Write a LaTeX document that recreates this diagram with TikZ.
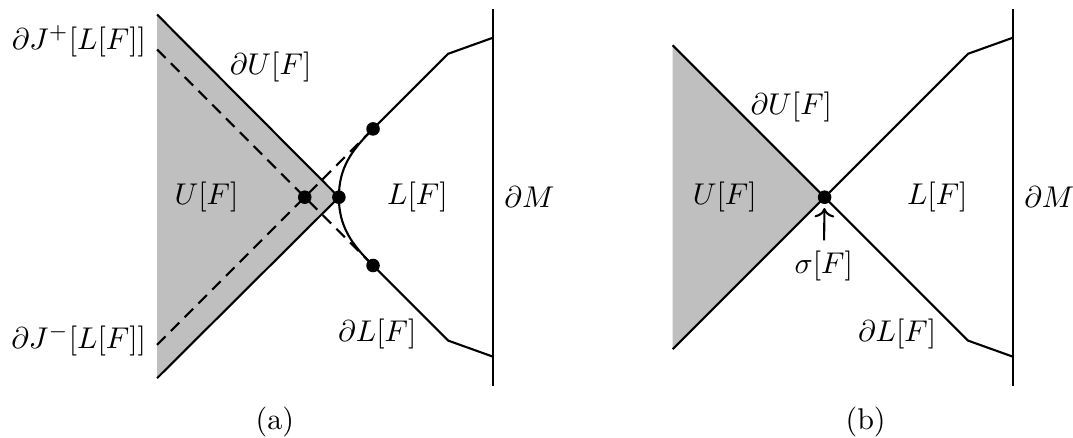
\documentclass[tikz,border=0pt]{standalone}
\usepackage{amsmath}
\usepackage{amssymb}
\usepackage{tikz}
\usetikzlibrary{arrows.meta,calc}
\definecolor{regiongray}{RGB}{191,191,191}

\begin{document}
\begin{tikzpicture}[>=To,line width=0.7pt,
 dot/.style={circle,fill,inner sep=1.6pt},
 horizon/.style={dash pattern=on 4pt off 2.5pt}]
\useasboundingbox (0,0) rectangle (12.57,5.13);
% boundary and labels shared by both panels
\foreach \x/\p in {0/a,6.09/b} {
 \begin{scope}[xshift=\x cm]
 \draw (5.78,5.03) -- (5.78,0.61);
 \node (L\p) at (4.89,2.82) {$L[F]$};
 \node (dL\p) at (4.42,1.22) {$\partial L[F]$};
 \node[right] (dM\p) at (5.78,2.82) {$\partial M$};
 \end{scope}
}
% (a) curved edge of L[F]
\fill[regiongray] (1.84,4.96) -- (3.97,2.82) -- (1.84,0.70) -- cycle;
\draw (1.84,4.96) -- (3.97,2.82) -- (1.84,0.70);
\draw[horizon] (1.84,4.55) -- (4.37,2.02);
\draw[horizon] (1.84,1.09) -- (4.37,3.62);
\draw (5.78,4.69) -- (5.25,4.50) -- (4.37,3.62) to[out=225,in=90] (3.97,2.82)
 to[out=270,in=135] (4.37,2.02) -- (5.25,1.14) -- (5.78,0.95);
\node[dot] (ax) at (3.57,2.82) {};
\node[dot] (atip) at (3.97,2.82) {};
\node[dot] (aup) at (4.37,3.62) {};
\node[dot] (alo) at (4.37,2.02) {};
\node (Ua) at (2.42,2.82) {$U[F]$};
\node (dUa) at (3.17,4.34) {$\partial U[F]$};
\node[left] (Jp) at (1.84,4.65) {$\partial J^{+}[L[F]]$};
\node[left] (Jm) at (1.84,1.14) {$\partial J^{-}[L[F]]$};
\node (capa) at (3.22,0.19) {(a)};
% (b) sharp corner sigma[F]
\fill[regiongray] (7.88,4.60) -- (9.66,2.82) -- (7.88,1.04) -- cycle;
\draw (7.88,4.60) -- (11.34,1.14) -- (11.87,0.95);
\draw (7.88,1.04) -- (11.34,4.50) -- (11.87,4.69);
\node[dot] (sigpt) at (9.66,2.82) {};
\node (Ub) at (8.49,2.82) {$U[F]$};
\node (dUb) at (9.27,3.88) {$\partial U[F]$};
\node (sig) at (9.65,2.01) {$\sigma[F]$};
\draw[->,shorten >=1pt] (sig) -- (sigpt);
\node (capb) at (10.14,0.19) {(b)};
\end{tikzpicture}
\end{document}
